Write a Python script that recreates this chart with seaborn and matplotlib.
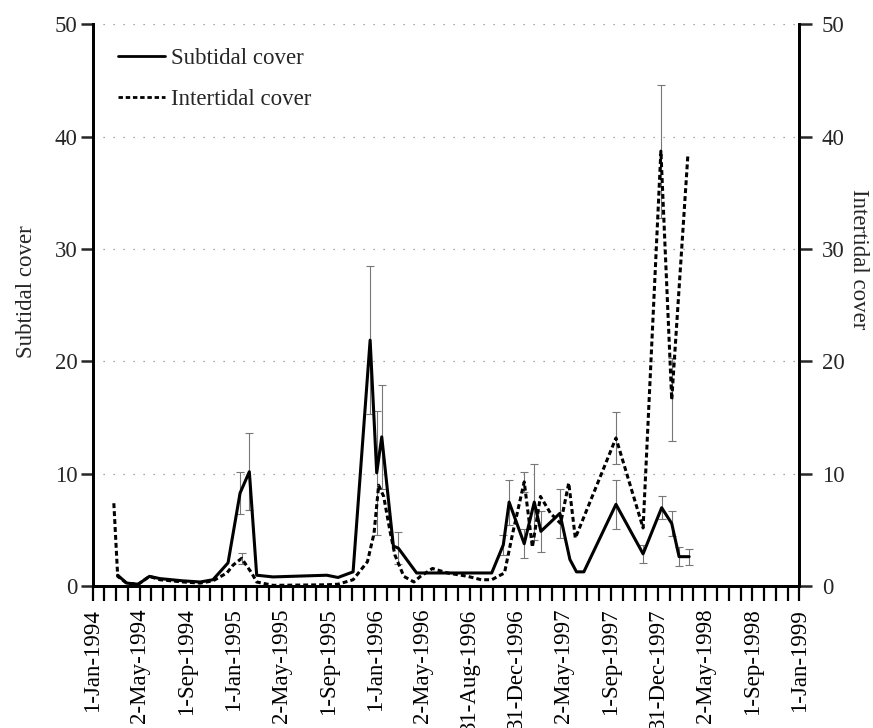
import numpy as np
import pandas as pd
import matplotlib
matplotlib.use("Agg")
import matplotlib.pyplot as plt
import matplotlib.dates as mdates
from matplotlib.lines import Line2D
import seaborn as sns

# Subtidal cover (left axis): sampling dates, mean cover, error half-widths
sub_dates = ["1994-03-07", "1994-03-30", "1994-04-29", "1994-05-28", "1994-06-24",
             "1994-07-24", "1994-08-23", "1994-10-06", "1994-11-08", "1994-12-17",
             "1995-01-17", "1995-02-10", "1995-03-01", "1995-04-12", "1995-08-29",
             "1995-09-27", "1995-11-05", "1995-12-19", "1996-01-05", "1996-01-18",
             "1996-02-17", "1996-03-01", "1996-04-17", "1996-10-28", "1996-11-27",
             "1996-12-12", "1997-01-20", "1997-02-15", "1997-03-04", "1997-04-22",
             "1997-05-18", "1997-06-04", "1997-06-23", "1997-09-14", "1997-11-23",
             "1998-01-10", "1998-02-05", "1998-02-24", "1998-03-22"]
sub_cover = [1.0, 0.3, 0.2, 0.9, 0.7,
             0.6, 0.5, 0.4, 0.6, 2.1,
             8.3, 10.2, 1.0, 0.85, 1.0,
             0.8, 1.3, 21.9, 10.1, 13.3,
             3.6, 3.4, 1.2, 1.2, 3.7,
             7.5, 3.8, 7.5, 4.9, 6.5,
             2.4, 1.3, 1.3, 7.3, 2.9,
             7.0, 5.6, 2.65, 2.65]
sub_err = [0, 0, 0, 0, 0,
           0, 0, 0, 0, 0,
           1.9, 3.4, 0, 0, 0,
           0, 0, 6.6, 5.5, 4.6,
           0, 1.4, 0, 0, 0.9,
           2.0, 1.3, 3.4, 1.8, 2.2,
           0, 0, 0, 2.2, 0.8,
           1.0, 1.1, 0.85, 0.7]

# Intertidal cover (right axis)
int_dates = ["1994-02-25", "1994-03-07", "1994-03-30", "1994-04-29", "1994-05-28",
             "1994-06-24", "1994-07-24", "1994-08-23", "1994-10-06", "1994-11-08",
             "1994-12-14", "1994-12-30", "1995-01-21", "1995-02-16", "1995-03-01",
             "1995-04-12", "1995-08-29", "1995-09-27", "1995-11-05", "1995-12-12",
             "1995-12-29", "1996-01-10", "1996-01-23", "1996-02-09", "1996-02-21",
             "1996-03-15", "1996-04-10", "1996-04-27", "1996-05-28", "1996-07-06",
             "1996-08-27", "1996-10-01", "1996-10-28", "1996-11-30", "1996-12-21",
             "1997-01-20", "1997-02-10", "1997-03-03", "1997-03-29", "1997-04-24",
             "1997-05-15", "1997-06-01", "1997-09-14", "1997-11-23", "1998-01-08",
             "1998-02-05", "1998-03-19"]
int_cover = [7.4, 0.9, 0.3, 0.2, 0.9,
             0.6, 0.5, 0.4, 0.3, 0.5,
             1.2, 1.9, 2.5, 1.2, 0.4,
             0.1, 0.15, 0.2, 0.6, 2.2,
             4.7, 9.0, 8.0, 4.8, 2.8,
             0.9, 0.4, 0.9, 1.6, 1.2,
             0.9, 0.6, 0.6, 1.2, 4.7,
             9.3, 3.5, 8.0, 6.5, 5.6,
             9.2, 4.3, 13.2, 5.2, 38.7,
             16.6, 38.5]
int_err = [0, 0, 0, 0, 0,
           0, 0, 0, 0, 0,
           0, 0, 0.5, 0, 0,
           0, 0, 0, 0, 0,
           0, 0, 0, 0, 0,
           0, 0, 0, 0, 0,
           0, 0, 0, 0, 0,
           0.9, 0, 0, 0, 0,
           0, 0, 2.3, 0, 5.9,
           3.7, 0]

tick_labels = ["1-Jan-1994", "2-May-1994", "1-Sep-1994", "1-Jan-1995", "2-May-1995",
               "1-Sep-1995", "1-Jan-1996", "2-May-1996", "31-Aug-1996", "31-Dec-1996",
               "2-May-1997", "1-Sep-1997", "31-Dec-1997", "2-May-1998", "1-Sep-1998",
               "1-Jan-1999"]
y_ticks = [0, 10, 20, 30, 40, 50]

sns.set_style("white")
plt.rcParams["font.family"] = ["Liberation Serif", "DejaVu Serif"]
plt.rcParams["font.size"] = 16.5

sub = pd.DataFrame({"date": pd.to_datetime(sub_dates), "cover": sub_cover, "err": sub_err})
inter = pd.DataFrame({"date": pd.to_datetime(int_dates), "cover": int_cover, "err": int_err})

fig = plt.figure(figsize=(8.73, 7.28), dpi=100)
ax = fig.add_axes([0.106, 0.1944, 0.8098, 0.7726])
ax2 = ax.twinx()

err_kw = dict(fmt="none", ecolor="#777777", elinewidth=0.8, capsize=3, capthick=0.8)
s_e = sub[sub["err"] > 0]
ax.errorbar(s_e["date"], s_e["cover"], yerr=s_e["err"], zorder=2, **err_kw)
i_e = inter[inter["err"] > 0]
ax2.errorbar(i_e["date"], i_e["cover"], yerr=i_e["err"], zorder=2, **err_kw)

sns.lineplot(data=sub, x="date", y="cover", ax=ax, color="black", lw=2.2, zorder=3)
sns.lineplot(data=inter, x="date", y="cover", ax=ax2, color="black", lw=2.2,
             linestyle=(0, (1.6, 1.0)), zorder=3)

start = mdates.date2num(pd.Timestamp("1994-01-01"))
end = mdates.date2num(pd.Timestamp("1999-01-01"))
major = np.linspace(start, end, 16)
minor = np.linspace(start, end, 61)

for a in (ax, ax2):
    a.set_xlim(start, end)
    a.set_ylim(0, 50)
    a.set_yticks(y_ticks)
    a.spines["top"].set_visible(False)
    for side in ("left", "right", "bottom"):
        a.spines[side].set_linewidth(2)
        a.spines[side].set_color("black")

ax.set_xticks(major)
ax.set_xticklabels(tick_labels, rotation=90, ha="center", va="top")
ax.set_xticks(minor, minor=True)
ax.tick_params(axis="x", which="both", direction="out", length=11, width=1.6,
               pad=5, bottom=True, colors="black")
ax.tick_params(axis="y", direction="out", length=9, width=1.8, pad=2, left=True)
ax2.tick_params(axis="y", direction="out", length=9, width=1.8, pad=7, right=True)

ax.yaxis.grid(True, color="#888888", linestyle=(0, (1, 7)), lw=0.9)
ax.xaxis.grid(False)
ax2.grid(False)

ax.set_xlabel("")
ax.set_ylabel("Subtidal cover")
ax2.set_ylabel("Intertidal cover", rotation=270)
ax.yaxis.set_label_coords(-0.079, 0.524)
ax2.yaxis.set_label_coords(1.099, 0.582)

handles = [Line2D([], [], color="black", lw=2.0),
           Line2D([], [], color="black", lw=2.0, linestyle=(0, (1.6, 1.0)))]
ax2.legend(handles, ["Subtidal cover", "Intertidal cover"], loc="upper left",
           bbox_to_anchor=(0.036, 0.957), frameon=False, handlelength=2.05,
           handletextpad=0.25, labelspacing=0.85, borderaxespad=0, borderpad=0)

fig.savefig("out.png", dpi=100)
